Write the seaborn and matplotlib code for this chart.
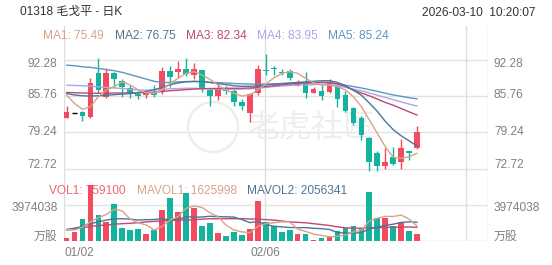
import numpy as np
import pandas as pd
import matplotlib
matplotlib.use("Agg")
import matplotlib.pyplot as plt
from matplotlib.patches import Rectangle, Circle
import matplotlib.transforms as mtransforms
import seaborn as sns

# ---------------- data ----------------
dates = (["01/02"] + ["01/%02d" % d for d in (5, 6, 7, 8, 9, 12, 13, 14, 15, 16, 19, 20, 21, 22, 23, 26, 27, 28, 29, 30)]
         + ["02/%02d" % d for d in (2, 3, 4, 5, 6, 9, 10, 11, 12, 13, 16, 20, 23, 24, 25, 26, 27)]
         + ["03/%02d" % d for d in (2, 3, 4, 5, 6, 9, 10)])
opens = [81.87, 82.76, 82.82, 81.93, 89.83, 85.52, 89.83, 88.51, 87.14, 86.12, 85.94, 86.30, 86.42, 90.25, 90.13,
         90.60, 89.53, 90.43, 86.84, 85.82, 87.14, 86.66, 84.62, 82.65, 86.36, 90.50, 90.75, 90.13, 90.25, 87.73,
         88.21, 86.36, 86.66, 86.54, 87.61, 85.94, 83.54, 81.80, 78.16, 75.50, 73.24, 74.75, 73.96, 75.90, 76.36]
closes = [82.94, 82.76, 82.23, 88.03, 86.84, 89.95, 88.75, 87.32, 86.06, 85.82, 86.36, 86.00, 90.25, 89.11, 90.61,
          89.70, 90.55, 87.02, 85.82, 87.26, 86.66, 84.74, 84.02, 86.06, 90.61, 90.20, 90.65, 89.83, 88.93, 88.21,
          86.24, 87.02, 85.82, 88.33, 85.22, 83.12, 80.85, 78.75, 73.90, 73.10, 73.85, 73.55, 76.50, 75.50, 79.23]
highs = [83.96, 82.76, 83.10, 89.05, 92.65, 90.73, 90.00, 88.75, 87.74, 86.66, 86.54, 87.70, 91.03, 91.15, 92.00,
         92.60, 91.60, 90.50, 87.14, 87.85, 87.56, 87.26, 85.22, 86.24, 91.33, 93.30, 91.20, 90.61, 90.55, 88.63,
         90.13, 87.40, 87.85, 88.75, 87.85, 86.66, 83.84, 82.23, 78.45, 75.90, 76.40, 76.60, 78.00, 75.90, 80.37]
lows = [81.75, 82.76, 81.30, 81.87, 86.24, 85.34, 87.26, 85.52, 85.34, 85.16, 85.34, 85.50, 86.06, 87.30, 89.00,
        89.40, 88.75, 86.54, 83.96, 85.04, 86.06, 84.02, 83.24, 81.03, 85.94, 89.50, 89.50, 89.53, 88.60, 87.60,
        85.46, 86.24, 85.04, 86.36, 83.84, 82.94, 80.55, 77.90, 72.20, 72.30, 72.60, 73.35, 72.60, 74.20, 76.20]
volumes = [0.30, 1.03, 2.40, 6.18, 2.87, 2.13, 4.05, 1.47, 1.21, 1.32, 0.77, 1.21, 3.42, 4.71, 3.23,
           5.26, 3.61, 1.69, 1.95, 0.92, 0.59, 0.96, 0.66, 1.29, 4.45, 2.05, 1.68, 0.94, 1.21, 0.74,
           0.74, 0.09, 0.30, 0.41, 1.06, 1.47, 1.67, 1.44, 5.44, 2.50, 2.57, 1.66, 2.13, 1.14, 0.7591]  # millions

ma1 = [85.94, 84.44, 83.37, 83.84, 85.64, 86.84, 87.44, 88.33, 87.74, 86.84, 86.36, 86.24, 86.84, 88.03, 88.93,
       89.83, 90.13, 89.53, 88.75, 87.74, 86.84, 86.24, 85.76, 85.94, 86.84, 87.92, 89.00, 89.83, 90.13, 89.83,
       88.93, 88.15, 87.74, 87.74, 87.44, 86.84, 85.64, 83.84, 81.45, 79.05, 76.66, 74.74, 74.56, 74.86, 75.49]
ma2 = [86.20, 85.95, 85.80, 85.75, 85.80, 85.90, 86.00, 86.10, 86.20, 86.35, 86.60, 86.90, 87.30, 87.80, 88.10,
       88.30, 88.40, 88.35, 88.20, 88.00, 87.80, 87.60, 87.50, 87.50, 87.60, 87.75, 87.90, 88.00, 88.10, 88.20,
       88.30, 88.40, 88.50, 88.50, 88.20, 87.60, 86.80, 85.90, 84.50, 83.00, 81.20, 79.70, 78.60, 77.70, 76.75]
ma3 = [86.40, 86.35, 86.30, 86.25, 86.25, 86.25, 86.30, 86.30, 86.30, 86.35, 86.40, 86.45, 86.55, 86.70, 86.80,
       86.90, 87.00, 87.05, 87.10, 87.10, 87.15, 87.15, 87.15, 87.20, 87.30, 87.45, 87.60, 87.75, 87.90, 88.00,
       88.10, 88.15, 88.20, 88.15, 87.90, 87.50, 86.80, 86.30, 85.80, 85.20, 84.60, 84.10, 83.50, 82.90, 82.34]
ma4 = [87.70, 87.65, 87.60, 87.50, 87.40, 87.30, 87.20, 87.10, 86.95, 86.85, 86.80, 86.85, 86.95, 87.05, 87.10,
       87.15, 87.15, 87.10, 87.05, 87.00, 86.95, 86.95, 87.00, 87.05, 87.15, 87.30, 87.45, 87.55, 87.65, 87.70,
       87.75, 87.80, 87.85, 87.85, 87.60, 87.30, 87.00, 86.70, 86.30, 85.90, 85.50, 85.10, 84.70, 84.30, 83.95]
ma5 = [91.30, 91.20, 91.00, 90.90, 90.70, 90.50, 90.30, 90.00, 89.60, 89.20, 88.80, 88.40, 88.20, 88.20, 88.30,
       88.35, 88.35, 88.30, 88.20, 88.15, 88.10, 88.00, 87.95, 87.90, 87.90, 87.90, 87.90, 87.95, 88.00, 88.05,
       88.10, 88.15, 88.20, 88.20, 88.00, 87.70, 87.45, 87.20, 86.90, 86.60, 86.25, 85.95, 85.70, 85.45, 85.24]

mavol1 = [1.27, 1.20, 1.50, 2.10, 2.56, 2.92, 3.50, 3.30, 2.40, 2.00, 1.76, 1.20, 1.60, 2.30, 2.70,
          3.60, 3.85, 3.70, 3.10, 2.70, 1.75, 1.20, 1.00, 0.90, 1.60, 1.90, 2.00, 2.10, 2.10, 1.30,
          1.05, 0.75, 0.60, 0.45, 0.50, 0.65, 0.98, 1.20, 2.20, 2.50, 2.70, 2.70, 2.85, 2.40, 1.625998]
mavol2 = [1.27, 1.40, 1.60, 1.90, 2.10, 2.30, 2.45, 2.45, 2.40, 2.30, 2.34, 2.36, 2.46, 2.32, 2.35,
          2.67, 2.62, 2.64, 2.72, 2.68, 2.66, 2.63, 2.36, 2.02, 2.14, 1.82, 1.62, 1.55, 1.48, 1.46,
          1.47, 1.39, 1.35, 1.26, 0.92, 0.86, 0.86, 0.91, 1.34, 1.51, 1.70, 1.85, 2.04, 2.11, 2.056341]
mavol3 = [1.20, 1.30, 1.45, 1.60, 1.70, 1.75, 1.85, 1.90, 1.95, 2.00, 2.10, 2.15, 2.20, 2.25, 2.30,
          2.30, 2.35, 2.40, 2.45, 2.45, 2.45, 2.45, 2.45, 2.42, 2.40, 2.35, 2.30, 2.20, 2.10, 2.05,
          2.00, 1.90, 1.80, 1.70, 1.55, 1.45, 1.40, 1.40, 1.45, 1.45, 1.50, 1.50, 1.52, 1.53, 1.50]

price_ticks = [92.28, 85.76, 79.24, 72.72]
vol_tick = 3974038
x_label_idx = [0, 25]

# ---------------- style ----------------
sns.set_theme(style="white")
plt.rcParams['font.family'] = ['Liberation Sans', 'Noto Sans CJK SC', 'DejaVu Sans']

W, H = 552, 265
fig = plt.figure(figsize=(W / 100, H / 100), dpi=100)
fig.patch.set_facecolor('white')

RED = '#F24A5E'
GREEN = '#14B39E'
C1, C2, C3, C4, C5 = '#D6A488', '#4E7596', '#BF4877', '#A9A8E4', '#5A97C8'
GRID = '#E3E3E3'
LBL = '#808080'

top_px, bot_px, left_px, right_px = 26, 240.9, 64, 488
rect = [left_px / W, 1 - bot_px / H, (right_px - left_px) / W, (bot_px - top_px) / H]
ax = fig.add_axes(rect)
axv = ax.twinx()

n = len(closes)
idx = np.arange(n)
step = 7.97
x0_px = 66.5
xl = ((left_px - x0_px) / step, (right_px - x0_px) / step)
ax.set_xlim(xl)

# price scale: 92.28 at 59.7px, 5.567 px/unit
ppu = 5.567
ax.set_ylim(92.28 - (bot_px - 59.7) / ppu, 92.28 + (59.7 - top_px) / ppu)
# volume scale: 0 at bottom, 3974038 at 204.9px
vpp = vol_tick / (bot_px - 204.9)
axv.set_ylim(0, (bot_px - top_px) * vpp)

for a in (ax, axv):
    for s in a.spines.values():
        s.set_visible(False)
axv.patch.set_visible(False)

# frame & grid
for t in price_ticks:
    ax.axhline(t, color=GRID, lw=1, zorder=0)
axv.axhline(vol_tick, color=GRID, lw=1, zorder=0)
axv.axhline(0, color='#D8D8D8', lw=1, zorder=0)
for xv in (xl[0] + 0.02, 25 - 0.1, 50.1, xl[1] - 0.02):
    ax.axvline(xv, color='#DDDDDD', lw=1, zorder=0)

# watermark (pixel coordinates)
ax.add_patch(Circle((213, H - 127), 25, transform=mtransforms.IdentityTransform(),
                    fill=False, ec='#EDEDED', lw=1.8, zorder=0.5, clip_on=False))
ax.text(248 / W, 1 - 128 / H, '老虎社區', transform=fig.transFigure, fontsize=23, color='#EEEEEE',
        va='center', ha='left', zorder=0.5, family=['Noto Sans CJK TC', 'Noto Sans CJK SC'])

# candles
bw = 0.72
for i in range(n):
    o, c, h, l = opens[i], closes[i], highs[i], lows[i]
    if o == c and h == l:
        ax.plot([i - bw / 2, i + bw / 2], [c, c], color='black', lw=1, zorder=3, solid_capstyle='butt')
        continue
    col = RED if c >= o else GREEN
    ax.plot([i, i], [l, h], color=col, lw=1, zorder=3, solid_capstyle='butt')
    lo, hi = min(o, c), max(o, c)
    hgt = max(hi - lo, 0.18)
    ax.add_patch(Rectangle((i - bw / 2, lo), bw, hgt, facecolor=col, edgecolor='none', zorder=4))

# MA lines
df = pd.DataFrame({'i': idx, 'ma1': ma1, 'ma2': ma2, 'ma3': ma3, 'ma4': ma4, 'ma5': ma5,
                   'mv1': np.array(mavol1) * 1e6, 'mv2': np.array(mavol2) * 1e6, 'mv3': np.array(mavol3) * 1e6})
for col, clr in (('ma5', C5), ('ma4', C4), ('ma3', C3), ('ma2', C2), ('ma1', C1)):
    sns.lineplot(data=df, x='i', y=col, ax=ax, color=clr, lw=1, estimator=None, sort=False, zorder=5)

# volume bars
vols = np.array(volumes) * 1e6
vcols = [RED if (closes[i] >= opens[i]) else GREEN for i in range(n)]
axv.bar(idx, vols, width=bw, color=vcols, zorder=3, linewidth=0)
for col, clr in (('mv3', C3), ('mv2', C2), ('mv1', C1)):
    sns.lineplot(data=df, x='i', y=col, ax=axv, color=clr, lw=1, estimator=None, sort=False, zorder=4)

for a in (ax, axv):
    a.set_xlabel('')
    a.set_ylabel('')
    a.set_xticks([])
    a.set_yticks([])
ax.set_xlim(xl)

# axis labels
def py(p):
    return 59.7 + (92.28 - p) * ppu

fs = 8.6
lab_pos = [(price_ticks[0], py(price_ticks[0]) + 3.8), (price_ticks[1], py(price_ticks[1]) - 0.5),
           (price_ticks[2], py(price_ticks[2]) - 0.3), (price_ticks[3], py(price_ticks[3]) - 3.3)]
for val, ypx in lab_pos:
    s = '%.2f' % val
    fig.text(57.5 / W, 1 - ypx / H, s, ha='right', va='center', fontsize=fs, color=LBL)
    fig.text(494 / W, 1 - ypx / H, s, ha='left', va='center', fontsize=fs, color=LBL)
fig.text(57.5 / W, 1 - 208 / H, str(vol_tick), ha='right', va='center', fontsize=fs, color=LBL)
fig.text(494 / W, 1 - 208 / H, str(vol_tick), ha='left', va='center', fontsize=fs, color=LBL)
fig.text(57.5 / W, 1 - 236.5 / H, '万股', ha='right', va='center', fontsize=fs, color=LBL)
fig.text(494 / W, 1 - 236.5 / H, '万股', ha='left', va='center', fontsize=fs, color=LBL)

# x labels
fig.text(64.5 / W, 1 - 252.5 / H, dates[x_label_idx[0]], ha='left', va='center', fontsize=fs, color=LBL)
fig.text(265 / W, 1 - 252.5 / H, dates[x_label_idx[1]], ha='center', va='center', fontsize=fs, color=LBL)

# header
fig.text(20 / W, 1 - 12.5 / H, '01318 毛戈平 - 日K', ha='left', va='center', fontsize=8.6, color='#333333')
fig.text(536 / W, 1 - 12.5 / H, '2026-03-10  10:20:07', ha='right', va='center', fontsize=8.6, color='#333333')

# MA legend
for xpx, name, vals, clr in ((43.2, 'MA1', ma1, C1), (114.9, 'MA2', ma2, C2), (185.6, 'MA3', ma3, C3),
                             (256.6, 'MA4', ma4, C4), (328, 'MA5', ma5, C5)):
    fig.text(xpx / W, 1 - 36 / H, '%s: %.2f' % (name, vals[-1]), ha='left', va='center', fontsize=8.6, color=clr)

# volume legend (under bars)
for xpx, txt, clr in ((49.3, 'VOL1: %d' % round(volumes[-1] * 1e6), '#EE6677'),
                      (136.7, 'MAVOL1: %d' % round(mavol1[-1] * 1e6), C1),
                      (246.7, 'MAVOL2: %d' % round(mavol2[-1] * 1e6), C2)):
    axv.text(xpx / W, 1 - 191.3 / H, txt, transform=fig.transFigure, ha='left', va='center',
             fontsize=8.6, color=clr, zorder=1)

fig.savefig('out.png', dpi=100, facecolor='white')
